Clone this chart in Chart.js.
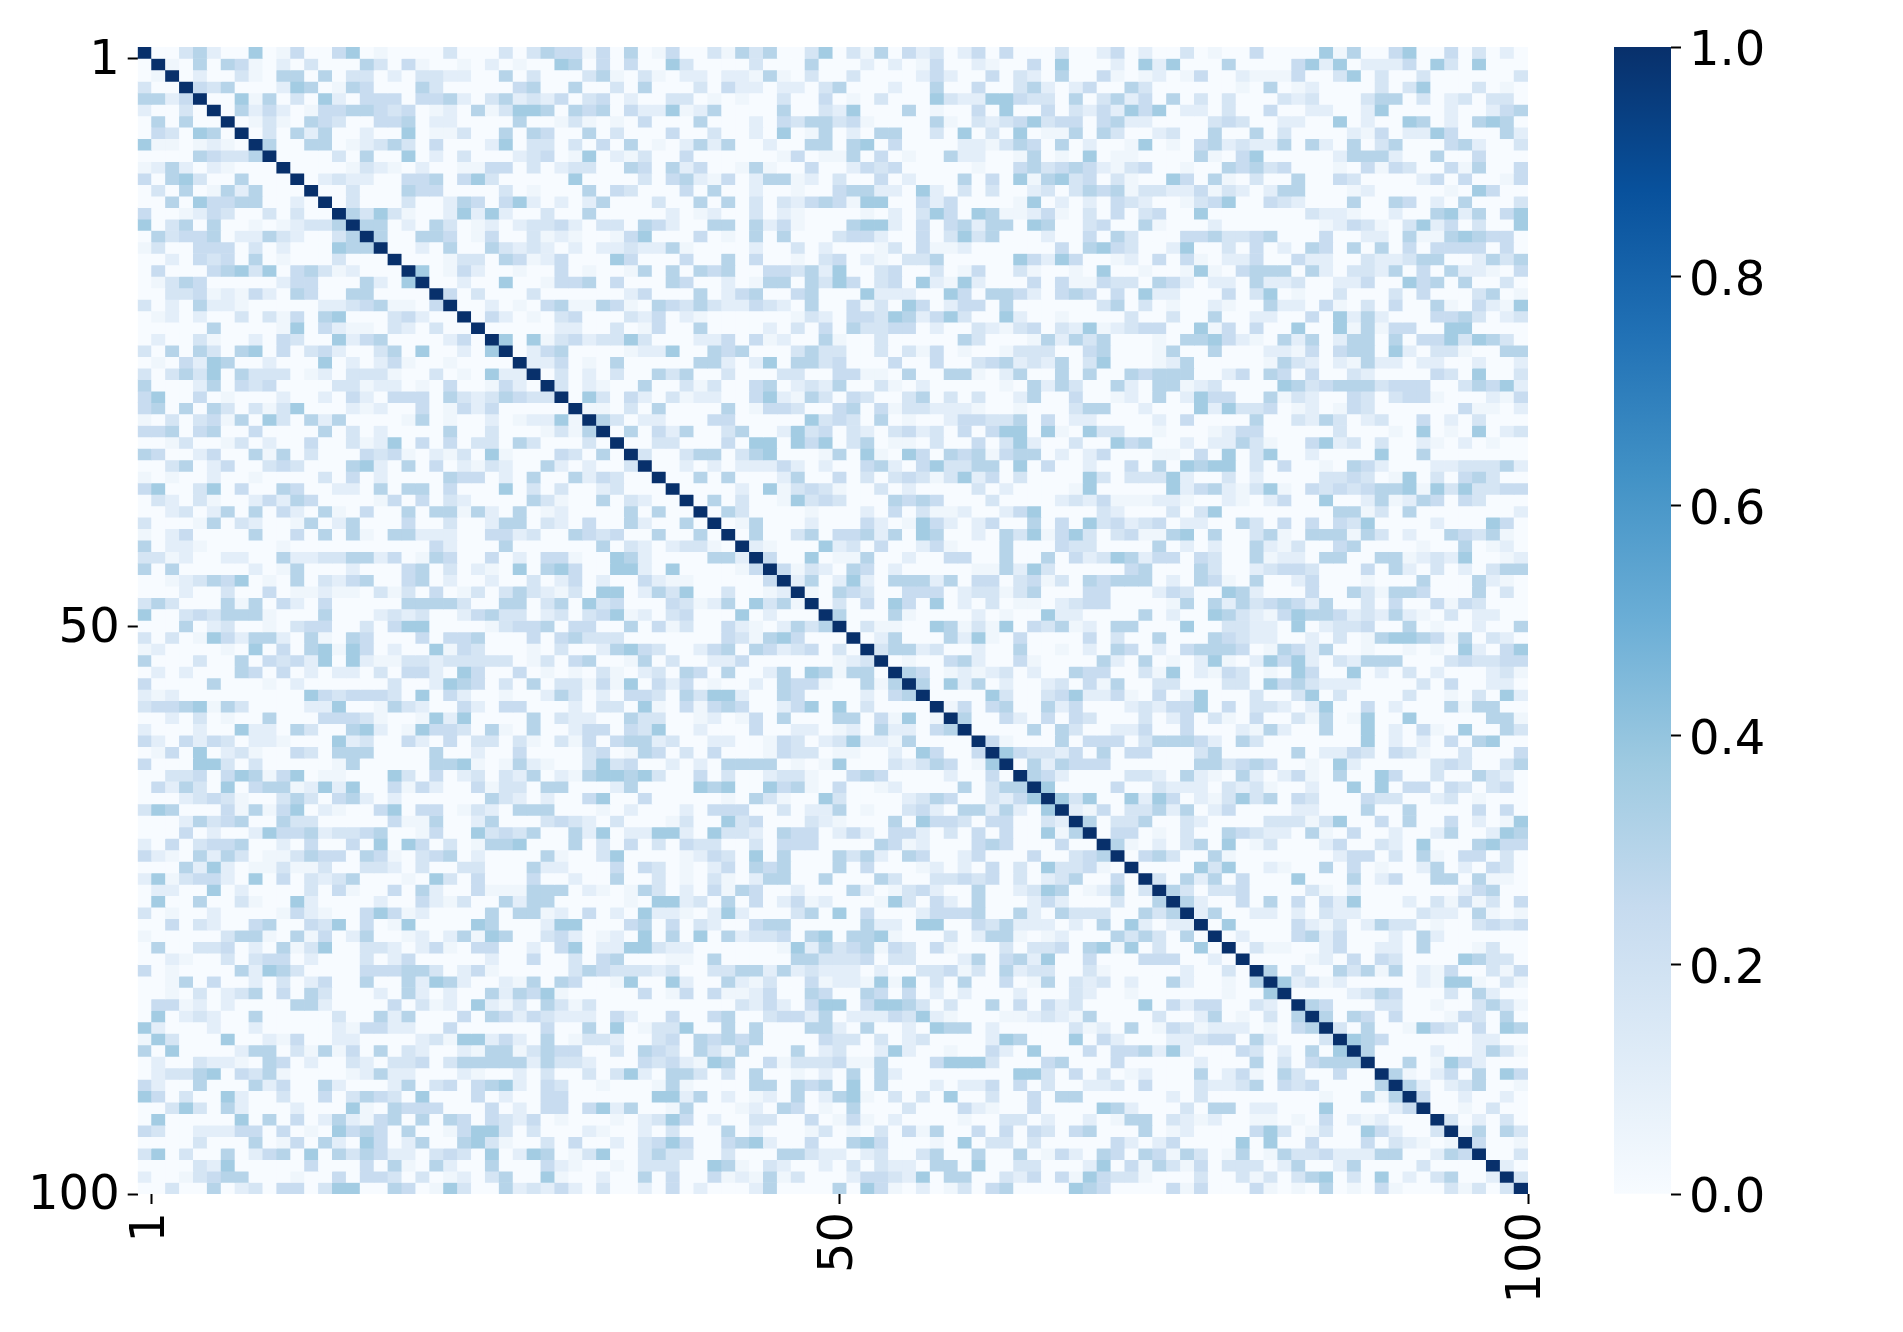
<!DOCTYPE html>
<html>
<head>
<meta charset="utf-8">
<title>Similarity heatmap</title>
<script src="https://cdn.jsdelivr.net/npm/chart.js@4"></script>
<style>
  body { margin: 0; background: #fff; }
  canvas { position: absolute; left: 0; top: 0; }
</style>
</head>
<body>
<canvas id="heatmap" width="1903" height="1332"></canvas>
<canvas id="colorbar" width="1903" height="1332"></canvas>
<script>
// Upper triangle, one line per row, right aligned to column 100.
// Each digit is a shade level (see shadeLevels); the spaces are only there for reading.
const upperRows = [
  "003520060140046010000300 03035 44140 50140 03153 50036 03150 42302 40400 03002 40200 30100 40000 61500 46004 03020",
  "10505410203000530410010 20100 65040 40063 00003 00050 00202 01400 21004 06000 20626 00050 00046 26022 24063 06000",
  "0200310550503302033220 05030 00351 03102 20221 51030 03000 02420 04032 05004 10120 14002 11140 03603 00300 00003",
  "435000265015400053000 00450 05003 05000 30422 02203 50002 00500 40035 20240 05300 00001 05012 00003 03600 03010",
  "00615030620444044520 35232 40340 20033 01010 03004 01030 00632 26643 30503 52405 03030 00323 00035 50302 30330",
  "0524201445543401205 13665 05450 42261 25000 05003 26000 50100 40600 40324 26460 22030 04002 20026 00002 00245",
  "013105430044502200 00500 13101 04000 50002 04355 34100 00510 32346 34404 52200 00343 00220 06020 06502 05650",
  "03052500200601130 05054 00503 00040 03002 06015 02055 00306 03060 11505 30023 00500 50300 00214 02264 00052",
  "5005501235304000 26033 03040 50102 52500 20055 05604 00002 21354 05020 01601 04523 22505 20503 50004 52003",
  "000030500602030 00234 01602 13004 00000 01401 15040 10052 20015 01060 11000 05104 60000 02555 20050 04000",
  "00001321020011 44030 23300 54052 40015 10040 02434 00000 10045 34542 13400 10054 53400 01041 43004 15004",
  "0232200445046 30000 06000 03045 21402 55120 30040 20005 04061 56340 31006 40510 30050 04300 00240 40014",
  "003000544000 03010 00504 30004 05002 00100 45522 06203 03002 30354 51332 24132 02550 00120 00001 06400",
  "03000300254 04620 20250 00300 50503 03245 41660 04240 00016 02020 43200 13460 04320 00500 54020 50003",
  "5363100262 62003 00500 00020 12003 02100 00102 03640 65112 41030 40340 06000 00003 22100 20056 25046",
  "550205301 20233 42033 05420 05505 24100 05662 04045 25506 50034 00510 00200 00000 12431 03624 03006",
  "50055401 40031 21001 46000 40105 05000 34420 04036 35000 20040 53000 44533 45000 40022 05115 65440",
  "0020500 53232 02022 32251 00002 00302 00013 04112 00000 04056 43002 60030 40205 40505 04044 44040",
  "000133 05412 40006 40004 00504 00103 40210 33500 00064 26400 12040 41022 40042 20032 23550 02535",
  "60142 00100 40100 15050 54500 44352 60034 00301 40031 00106 00100 16104 55505 20332 50405 22104",
  "0020 06001 44504 00054 00201 55053 64034 06216 20004 04114 33054 20220 52230 02240 06450 50030",
  "403 00030 00000 24000 50245 00450 00622 20064 05542 04540 40622 00040 36010 03000 30400 03501",
  "00 20104 51154 10543 53224 32050 04130 64024 40500 00003 50301 00210 05220 41030 40051 04216",
  "0 42010 34000 32402 10000 00132 04436 52463 00620 01000 03003 00500 22004 06252 00044 53023",
  "00000 22003 01400 50000 20304 05334 40200 32134 03261 23440 06140 40060 06151 44006 60000",
  "6061 34233 63000 22404 12005 10030 00005 30001 52535 00010 55642 10525 02550 50446 36530",
  "024 50000 12260 05450 00353 30030 31401 00133 30045 00015 00500 02214 04550 62033 10055",
  "22 40105 00000 55202 60553 40004 00400 34523 25036 00012 50000 01532 02152 20220 02002",
  "0 30203 00535 00300 03300 44110 50055 10250 05050 05455 50024 05404 00320 00043 06003",
  "30210 05003 13004 50232 50031 02000 00105 25300 52055 12300 00653 45553 44400 35462",
  "0630 42031 22004 62153 04300 35030 30025 00400 12050 26440 05132 00430 34410 00214",
  "110 30500 00501 44300 45041 33222 10010 00355 00200 06263 34012 01430 00000 41102",
  "53 02200 04400 00063 43050 10024 43350 40220 00020 40000 50032 53023 00402 03000",
  "0 50425 00350 02634 03203 42304 04660 61063 30010 00124 40000 03000 10601 06023",
  "00330 00406 60646 03501 10300 40362 00300 64500 20225 31004 62303 00210 20100",
  "3003 55035 60001 50610 64054 51455 02024 00011 04060 36002 00006 00500 00000",
  "002 02022 24202 00452 04633 55060 40020 04050 65660 30400 10542 00022 33352",
  "00 50500 02500 40303 43136 24030 00063 03336 20030 20000 33430 16030 45300",
  "0 00020 61343 10030 20000 30200 00160 00006 24521 36104 34345 56163 63344",
  "05030 01634 30005 45400 03000 02324 11122 10021 02400 60025 12540 43000",
  "0530 00010 00204 03112 00246 00003 20003 03600 00000 05513 05000 00002",
  "015 00020 00420 16420 24005 04063 42340 22005 30404 04360 00020 00640",
  "05 00350 44525 06500 20536 14630 34115 60500 35105 55153 02005 43510",
  "2 10006 23040 02410 00500 04330 00050 20200 52130 04500 00100 50120",
  "40060 11500 20044 00500 50423 65244 04300 51220 55005 51232 60012",
  "4132 05402 00000 11526 30000 04500 05300 23443 00040 52030 20355",
  "250 26205 55250 44034 13054 55502 05410 50024 00010 00500 05210",
  "10 54300 44402 33135 00044 00024 30065 20004 00531 55400 05030",
  "0 30406 40602 03011 02344 00001 50525 34542 50030 40041 43000",
  "50005 10000 20100 62200 00502 00653 21465 54232 52103 02200",
  "0311 00651 31604 35120 55000 60033 22060 23340 05010 02005",
  "025 00052 61040 00040 30050 00543 22002 03015 66541 50320",
  "35 52300 20050 01020 54020 45554 01542 50010 01010 62046",
  "0 10045 20041 00005 20501 02610 26462 03255 50003 43344",
  "54012 12302 00544 00316 02143 01064 00602 03020 00231",
  "5062 50200 23041 50033 00033 06453 22200 00304 00220",
  "000 06300 34622 41040 26000 30036 03000 03001 03062",
  "14 04500 52400 02324 46040 33202 60040 20005 15500",
  "5 00420 40430 00302 40310 40031 50160 06000 00551",
  "00005 05300 22400 40002 15200 50060 20410 60053",
  "4100 05044 40355 54205 30000 00060 20204 05600",
  "643 32405 04400 03500 00050 22430 43100 30004",
  "05 25444 00000 05534 54001 06200 00034 30035",
  "5 42000 03320 52105 20241 05006 40030 05320",
  "60000 40032 22032 31002 00606 04404 30340",
  "6360 06264 02136 35043 00043 30023 01000",
  "214 03352 50240 00022 00050 05000 04040",
  "50 33500 32000 03331 36004 05004 02016",
  "0 44010 30054 32205 10400 20025 00265",
  "51020 35060 13000 24003 20600 05644",
  "0453 00510 00000 02440 30510 44030",
  "000 06360 02100 50401 00250 20430",
  "30 52504 00060 00502 40055 05110",
  "5 30334 00003 10200 00000 24500",
  "52004 05040 42600 02031 41304",
  "2500 22020 32200 00322 05101",
  "060 00042 13025 33010 03434",
  "02 00045 24000 20520 00000",
  "0 31100 24002 20500 01300",
  "00001 20404 30000 65330",
  "5030 05351 50214 00314",
  "623 12000 00216 61031",
  "00 00235 40003 05200",
  "5 40003 30010 03531",
  "50540 40001 43050",
  "3050 01643 04065",
  "654 00000 02200",
  "50 00020 02531",
  "0 05016 42000",
  "51024 05064",
  "5202 35001",
  "400 20020",
  "00 10300",
  "3 02030",
  "15053",
  "4001",
  "003",
  "20",
  "3",
  ""
];
const shadeLevels = [0, 0.04, 0.1, 0.17, 0.24, 0.3, 0.36];
const axisTicks = [1, 50.5, 100];
const axisLabels = ['1', '50', '100'];
const colorbarTicks = [0, 0.2, 0.4, 0.6, 0.8, 1];
const blues = ['#f7fbff', '#deebf7', '#c6dbef', '#9ecae1', '#6baed6', '#4292c6', '#2171b5', '#08519c', '#08306b'];

const font = { family: 'DejaVu Sans', size: 48 };

function hexToRgb(hex) {
  return [1, 3, 5].map((i) => parseInt(hex.slice(i, i + 2), 16));
}

// same lookup the colorbar gradient does
function colorFor(value) {
  const pos = value * (blues.length - 1);
  const i = Math.min(Math.floor(pos), blues.length - 2);
  const a = hexToRgb(blues[i]);
  const b = hexToRgb(blues[i + 1]);
  const rgb = a.map((v, k) => Math.round(v + (b[k] - v) * (pos - i)));
  return `rgb(${rgb.join(',')})`;
}

// Mirror the upper triangle, the diagonal is always 1
const matrix = upperRows.map(() => new Array(upperRows.length).fill(0));
upperRows.forEach((row, r) => {
  matrix[r][r] = 1;
  const digits = row.replace(/ /g, '');
  for (let j = 0; j < digits.length; j++) {
    const c = upperRows.length - digits.length + j;
    if (c <= r) continue;
    matrix[r][c] = shadeLevels[Number(digits[j])];
    matrix[c][r] = matrix[r][c];
  }
});

const tickStyle = {
  display: true,
  offset: false,
  drawOnChartArea: false,
  drawTicks: true,
  tickLength: 10,
  tickWidth: 2,
  tickColor: '#000',
};

new Chart(document.getElementById('heatmap'), {
  type: 'bar',
  data: {
    datasets: matrix.map((cells, r) => ({
      data: cells.map((_, c) => ({ x: c + 0.5, y: [r, r + 1] })),
      backgroundColor: cells.map((v) => colorFor(v)),
      borderWidth: 0,
      barPercentage: 1,
      categoryPercentage: 1,
      grouped: false,
    })),
  },
  options: {
    responsive: false,
    animation: false,
    layout: { autoPadding: false, padding: { left: 0, top: 47, right: 375, bottom: 0 } },
    plugins: { legend: { display: false }, tooltip: { enabled: false } },
    scales: {
      x: {
        type: 'linear',
        offset: false,
        min: 0,
        max: 100,
        afterBuildTicks: (axis) => { axis.ticks = axisTicks.map((value) => ({ value })); },
        afterFit: (axis) => { axis.height = 138; },
        ticks: {
          font,
          color: '#000',
          padding: 8,
          minRotation: 90,
          maxRotation: 90,
          callback: (v, i) => axisLabels[i],
        },
        grid: tickStyle,
        border: { display: false },
      },
      y: {
        type: 'linear',
        reverse: true,
        min: 0,
        max: 100,
        afterBuildTicks: (axis) => { axis.ticks = axisTicks.map((value) => ({ value })); },
        afterFit: (axis) => { axis.width = 137.7; },
        ticks: { font, color: '#000', padding: 8, labelOffset: 3, callback: (v, i) => axisLabels[i] },
        grid: tickStyle,
        border: { display: false },
      },
    },
  },
});

new Chart(document.getElementById('colorbar'), {
  type: 'bar',
  data: {
    labels: [''],
    datasets: [
      {
        data: [[0, 1]],
        borderWidth: 0,
        barPercentage: 1,
        categoryPercentage: 1,
        backgroundColor: (ctx) => {
          const area = ctx.chart.chartArea;
          if (!area) return blues[0];
          const gradient = ctx.chart.ctx.createLinearGradient(0, area.bottom, 0, area.top);
          blues.forEach((c, i) => gradient.addColorStop(i / (blues.length - 1), c));
          return gradient;
        },
      },
    ],
  },
  options: {
    responsive: false,
    animation: false,
    layout: { autoPadding: false, padding: { left: 1614, top: 47, right: 0, bottom: 138 } },
    plugins: { legend: { display: false }, tooltip: { enabled: false } },
    scales: {
      x: { display: false },
      y: {
        position: 'right',
        min: 0,
        max: 1,
        afterBuildTicks: (axis) => { axis.ticks = colorbarTicks.map((value) => ({ value })); },
        afterFit: (axis) => { axis.width = 232; },
        ticks: { font, color: '#000', padding: 8, labelOffset: 6, callback: (v) => v.toFixed(1) },
        grid: tickStyle,
        border: { display: false },
      },
    },
  },
});
</script>
</body>
</html>
